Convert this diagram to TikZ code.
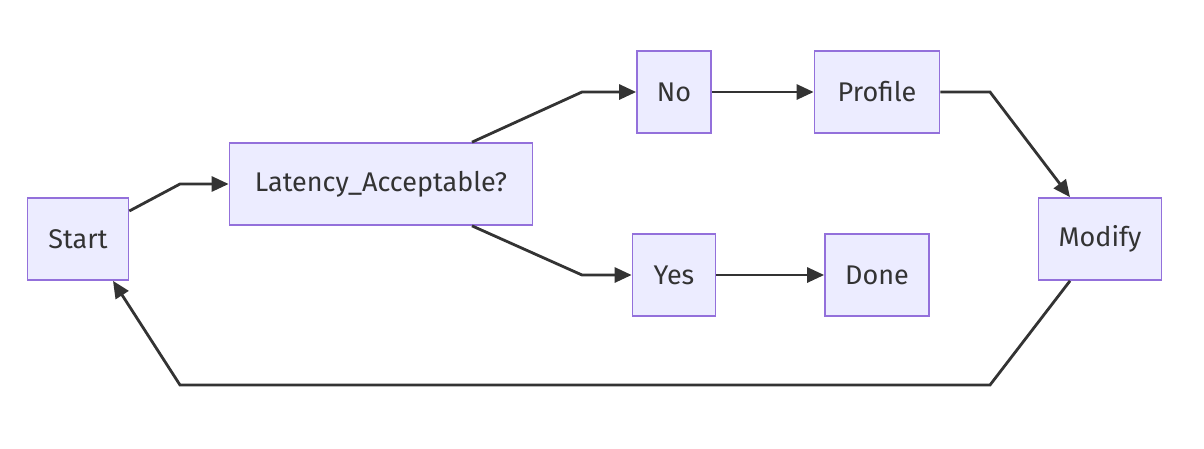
\documentclass[tikz,border=0pt]{standalone}
\usepackage{fontspec}
\setmainfont{Fira Sans}
\usepackage{tikz}
\usetikzlibrary{arrows.meta}
\definecolor{boxfill}{HTML}{ECECFF}
\definecolor{boxline}{HTML}{9370DB}
\definecolor{edge}{HTML}{333333}

\begin{document}
\begin{tikzpicture}[x=1pt, y=-1pt,
  box/.style={draw=boxline, fill=boxfill, line width=1.7pt, minimum height=82pt,
    inner sep=0pt, font=\fontsize{27}{32}\selectfont, text=edge},
  flow/.style={draw=edge, line width=2.8pt, -{Triangle[length=17pt, width=15pt]}}]
\useasboundingbox (0,0) rectangle (1204,448);
%
\node[box, minimum width=101pt] (start) at (78,239) {Start};
\node[box, minimum width=303pt] (latency) at (381,184) {Latency\_Acceptable?};
\node[box, minimum width=74pt] (no) at (674,92) {No};
\node[box, minimum width=125pt] (profile) at (877,92) {Profile};
\node[box, minimum width=83pt] (yes) at (674,275) {Yes};
\node[box, minimum width=104pt] (done) at (877,275) {Done};
\node[box, minimum width=123pt] (modify) at (1100,239) {Modify};
%
\draw[flow] ([yshift=28pt]start.east) -- (180,184) -- (latency.west);
\draw[flow] ([xshift=91pt]latency.north) -- (582,92) -- (no.west);
\draw[flow] ([xshift=91pt]latency.south) -- (582,275) -- (yes.west);
\draw[flow] (no.east) -- (profile.west);
\draw[flow] (yes.east) -- (done.west);
\draw[flow] (profile.east) -- (990,92) -- ([xshift=-30pt]modify.north);
\draw[flow] ([xshift=-30pt]modify.south) -- (990,385) -- (180,385) -- ([xshift=35pt]start.south);
\end{tikzpicture}
\end{document}
